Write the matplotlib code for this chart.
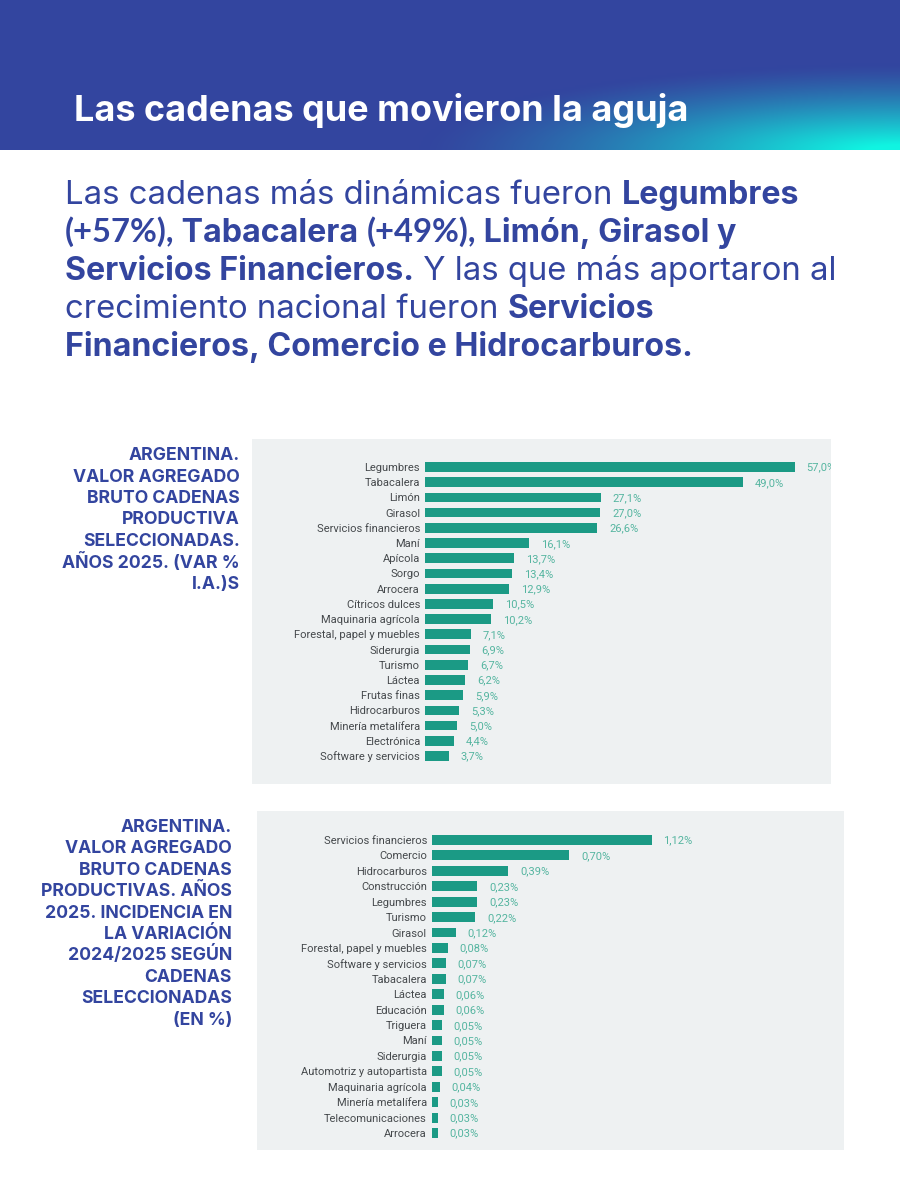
import numpy as np
import matplotlib
matplotlib.use("Agg")
import matplotlib.pyplot as plt
from matplotlib.patches import Rectangle

cats_a = ["Legumbres","Tabacalera","Limón","Girasol","Servicios financieros","Maní","Apícola","Sorgo","Arrocera","Cítricos dulces","Maquinaria agrícola","Forestal, papel y muebles","Siderurgia","Turismo","Láctea","Frutas finas","Hidrocarburos","Minería metalífera","Electrónica","Software y servicios"]
vals_a = [57.0,49.0,27.1,27.0,26.6,16.1,13.7,13.4,12.9,10.5,10.2,7.1,6.9,6.7,6.2,5.9,5.3,5.0,4.4,3.7]
cats_b = ["Servicios financieros","Comercio","Hidrocarburos","Construcción","Legumbres","Turismo","Girasol","Forestal, papel y muebles","Software y servicios","Tabacalera","Láctea","Educación","Triguera","Maní","Siderurgia","Automotriz y autopartista","Maquinaria agrícola","Minería metalífera","Telecomunicaciones","Arrocera"]
vals_b = [1.12,0.70,0.39,0.23,0.23,0.22,0.12,0.08,0.07,0.07,0.06,0.06,0.05,0.05,0.05,0.05,0.04,0.03,0.03,0.03]
title = "Las cadenas que movieron la aguja"
body = [
    [("Las cadenas más dinámicas fueron ","r"),("Legumbres","b")],
    [("(+57%),","n"),(" Tabacalera ","b"),("(+49%),","n"),(" Limón, Girasol y","b")],
    [("Servicios Financieros.","b"),(" Y las que más aportaron al","r")],
    [("crecimiento nacional fueron ","r"),("Servicios","b")],
    [("Financieros, Comercio e Hidrocarburos.","b")],
]
caption_a = ["ARGENTINA.","VALOR AGREGADO","BRUTO CADENAS","PRODUCTIVA","SELECCIONADAS.","AÑOS 2025. (VAR %","I.A.)S"]
caption_b = ["ARGENTINA.","VALOR AGREGADO","BRUTO CADENAS","PRODUCTIVAS. AÑOS","2025. INCIDENCIA EN","LA VARIACIÓN","2024/2025 SEGÚN","CADENAS","SELECCIONADAS","(EN %)"]

W, H = 900, 1200
BLUE = "#33459F"; BAR = "#1B9A85"; LAB = "#55B5A0"; PANEL = "#EEF1F2"; TXT = "#45494C"
FONT = "Inter"
STYLES = {"r": dict(fontsize=23.7, fontweight="normal", family=FONT),
          "b": dict(fontsize=23.2, fontweight="bold", family=FONT),
          "n": dict(fontsize=23.6, fontweight="bold", family="Lato")}

fig = plt.figure(figsize=(W/100, H/100), dpi=100, facecolor="white")
bg = fig.add_axes([0, 0, 1, 1], zorder=0)
bg.set_xlim(0, W); bg.set_ylim(H, 0); bg.axis("off")

# header with a teal glow in the lower right corner
xx, yy = np.meshgrid(np.linspace(0, W, 450), np.linspace(0, 150, 75))
d = np.sqrt(((W-xx)/480)**2 + ((152-yy)/88)**2)
t = np.clip(np.clip(1-d, 0, 1)**1.35*1.1, 0, 1)[..., None]
c0 = np.array(matplotlib.colors.to_rgb(BLUE)); c1 = np.array(matplotlib.colors.to_rgb("#10F5E2"))
bg.imshow(c0*(1-t)+c1*t, extent=(0, W, 150, 0), aspect="auto", zorder=1, interpolation="bilinear")
bg.set_xlim(0, W); bg.set_ylim(H, 0)

bg.text(74, 121, title, color="white", fontsize=25.9, fontweight="bold", family=FONT, va="baseline", ha="left", zorder=3)

r = fig.canvas.get_renderer()
for i, line in enumerate(body):
    x = 65
    y = 204 + i*38
    for s, k in line:
        st = STYLES[k]
        bg.text(x, y, s, color=BLUE, va="baseline", ha="left", zorder=3, **st)
        probe = bg.text(0, 0, s.replace(" ", "\u00a0"), **st)
        x += probe.get_window_extent(r).width
        probe.remove()

for i, s in enumerate(caption_a):
    bg.text(240, 460+i*21.5, s, color=BLUE, fontsize=12.7, fontweight="bold", family=FONT, ha="right", va="baseline", zorder=3)
for i, s in enumerate(caption_b):
    bg.text(232, 832+i*21.4, s, color=BLUE, fontsize=12.7, fontweight="bold", family=FONT, ha="right", va="baseline", zorder=3)


def panel(cats, vals, box, x0, scale, y0, y1, fmt):
    left, top, right, bottom = box
    bg.add_patch(Rectangle((left, top), right-left, bottom-top, fc=PANEL, ec="none", zorder=2))
    n = len(cats)
    step = (y1-y0)/(n-1)
    ax_top, ax_bot = y0-step/2, y1+step/2
    ax = fig.add_axes([x0/W, 1-ax_bot/H, (right-x0)/W, (ax_bot-ax_top)/H], zorder=2)
    ax.patch.set_alpha(0)
    y = np.arange(n)
    ax.barh(y, vals, height=0.64, color=BAR, edgecolor="none")
    ax.set_xlim(0, (right-x0)/scale)
    ax.set_ylim(n-0.5, -0.5)
    ax.set_yticks(y, cats, fontsize=8.05, color=TXT, family="Roboto")
    ax.set_xticks([])
    ax.tick_params(axis="y", length=0, pad=3.6)
    for sp in ax.spines.values():
        sp.set_visible(False)
    for yi, v in zip(y, vals):
        ax.annotate(fmt(v), (v, yi), xytext=(8.6, -0.5), textcoords="offset points", fontsize=8.05,
                    color=LAB, family="Roboto", va="center", ha="left", annotation_clip=False, clip_on=True)
    return ax


panel(cats_a, vals_a, (252, 439, 831, 784), 425, 369.5/57, 467, 756, lambda v: f"{v:.1f}%".replace(".", ","))
panel(cats_b, vals_b, (257, 811, 844, 1150), 432, 219.5/1.12, 840, 1133, lambda v: f"{v:.2f}%".replace(".", ","))

fig.savefig("out.png", dpi=100)
